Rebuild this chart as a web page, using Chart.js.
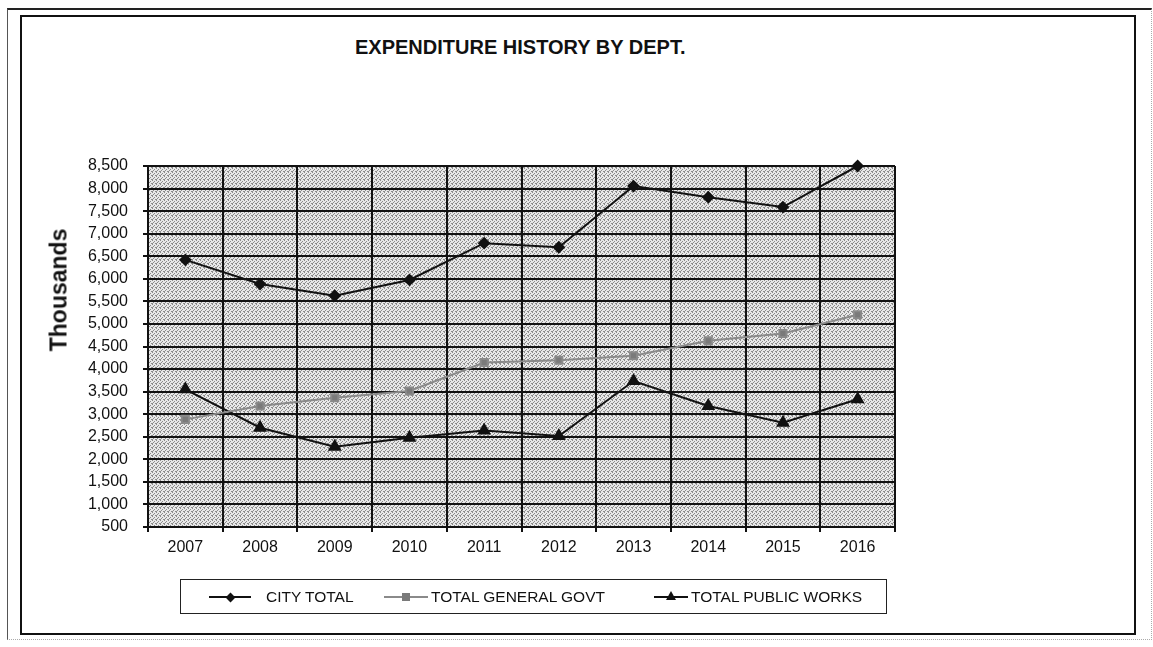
<!DOCTYPE html>
<html>
<head>
<meta charset="utf-8">
<script src="https://cdn.jsdelivr.net/npm/chart.js@4"></script>
<style>
  body { margin: 0; background: #fff; font-family: "Liberation Sans", Arial, sans-serif; }
  #page { position: relative; width: 1153px; height: 647px; overflow: hidden; }
  #outer { position: absolute; left: 7px; top: 8px; width: 1145px; height: 632px;
    border-left: 1px solid #555; border-top: 2px solid #222; border-right: 1px dotted #aaa; border-bottom: 1px dotted #aaa; box-sizing: border-box; }
  #inner { position: absolute; left: 20px; top: 15px; width: 1116px; height: 620px; border: 2px solid #111; box-sizing: border-box; }
  #title { position: absolute; left: 355px; top: 36px; font-size: 20px; font-weight: bold; color: #111; white-space: nowrap; }
  #ytitle { position: absolute; left: 59px; top: 290px; font-size: 23px; font-weight: bold; color: #111; white-space: nowrap;
    transform: translate(-50%, -50%) rotate(-90deg); }
  #chartBox { position: absolute; left: 0; top: 0; width: 1153px; height: 647px; }
  #legend { position: absolute; left: 180px; top: 579px; width: 707px; height: 35px; border: 1px solid #222; box-sizing: border-box; }
  .sample { position: absolute; top: 16px; height: 2px; }
  .mark { position: absolute; }
  .label { position: absolute; top: 8px; font-size: 15.5px; color: #111; white-space: nowrap; }
</style>
</head>
<body>
<div id="page">
  <div id="outer"></div>
  <div id="inner"></div>
  <div id="title">EXPENDITURE HISTORY BY DEPT.</div>
  <div id="chartBox"><canvas id="expChart"></canvas></div>
  <div id="ytitle">Thousands</div>
  <div id="legend"></div>
</div>
<script>
// data (thousands)
const years = ['2007', '2008', '2009', '2010', '2011', '2012', '2013', '2014', '2015', '2016'];
const cityTotal = [6420, 5885, 5625, 5975, 6790, 6700, 8055, 7810, 7590, 8500];
const generalGovt = [2885, 3180, 3365, 3515, 4145, 4195, 4295, 4625, 4790, 5205];
const publicWorks = [3550, 2700, 2280, 2480, 2640, 2515, 3735, 3180, 2810, 3330];
const seriesNames = ['CITY TOTAL', 'TOTAL GENERAL GOVT', 'TOTAL PUBLIC WORKS'];
const yMin = 500, yMax = 8500, yStep = 500;

// grey stipple like the scanned plot area
function stipple(ctx) {
  const c = document.createElement('canvas');
  c.width = 4; c.height = 4;
  const p = c.getContext('2d');
  p.fillStyle = '#e8e8e8';
  p.fillRect(0, 0, 4, 4);
  p.fillStyle = '#8c8c8c';
  [[0,0],[2,1],[1,2],[3,3],[0,3]].forEach(function(d) { p.fillRect(d[0], d[1], 1, 1); });
  return ctx.createPattern(c, 'repeat');
}

const plotBg = {
  id: 'plotBg',
  beforeDraw(chart) {
    const a = chart.chartArea, ctx = chart.ctx;
    ctx.save();
    ctx.fillStyle = stipple(ctx);
    ctx.fillRect(a.left, a.top, a.right - a.left, a.bottom - a.top);
    ctx.restore();
  }
};

const font = { family: '"Liberation Sans", Arial, sans-serif', size: 16 };

const chart = new Chart(document.getElementById('expChart'), {
  type: 'line',
  data: {
    labels: years,
    datasets: [{
      label: seriesNames[0],
      data: cityTotal,
      borderColor: '#111',
      backgroundColor: '#111',
      borderWidth: 2,
      pointStyle: 'rectRot',
      pointRadius: 5,
      tension: 0
    }, {
      label: seriesNames[1],
      data: generalGovt,
      borderColor: '#8a8a8a',
      backgroundColor: '#7a7a7a',
      borderWidth: 2,
      pointStyle: 'rect',
      pointRadius: 5,
      tension: 0
    }, {
      label: seriesNames[2],
      data: publicWorks,
      borderColor: '#111',
      backgroundColor: '#111',
      borderWidth: 2,
      pointStyle: 'triangle',
      pointRadius: 6,
      tension: 0
    }]
  },
  options: {
    responsive: true,
    maintainAspectRatio: false,
    animation: false,
    clip: false,
    layout: { padding: { left: 40, top: 166, right: 258, bottom: 80 } },
    plugins: { legend: { display: false }, tooltip: { enabled: false } },
    scales: {
      x: {
        offset: true,
        grid: { offset: true, color: '#111', lineWidth: 2, tickLength: 5 },
        border: { color: '#111', width: 2 },
        ticks: { color: '#111', font: font, padding: 6, maxRotation: 0 },
        afterFit: function(s) { s.height = 40; }
      },
      y: {
        min: yMin,
        max: yMax,
        grid: { color: '#111', lineWidth: 2, tickLength: 5 },
        border: { color: '#111', width: 2 },
        ticks: {
          stepSize: yStep,
          color: '#111',
          font: font,
          padding: 15,
          callback: function(v) { return v.toLocaleString('en-US'); }
        },
        afterFit: function(s) { s.width = 108; }
      }
    }
  },
  plugins: [plotBg]
});

// legend built from the chart's datasets
const legendPos = [
  { sample: [208, 250], text: 265 },
  { sample: [383, 427], text: 430 },
  { sample: [653, 687], text: 690 }
];
const legendLeft = 180;
const legend = document.getElementById('legend');
chart.data.datasets.forEach(function(ds, i) {
  const pos = legendPos[i];
  const left = pos.sample[0] - legendLeft, w = pos.sample[1] - pos.sample[0];
  const line = document.createElement('div');
  line.className = 'sample';
  line.style.left = left + 'px';
  line.style.width = w + 'px';
  line.style.background = ds.borderColor;
  legend.appendChild(line);
  const m = document.createElement('div');
  m.className = 'mark';
  const cx = left + w / 2;
  if (ds.pointStyle === 'rectRot') {
    Object.assign(m.style, { left: (cx - 3.5) + 'px', top: '13.5px', width: '7px', height: '7px', background: ds.backgroundColor, transform: 'rotate(45deg)' });
  } else if (ds.pointStyle === 'rect') {
    Object.assign(m.style, { left: (cx - 4) + 'px', top: '13px', width: '8px', height: '8px', background: ds.backgroundColor });
  } else {
    Object.assign(m.style, { left: (cx - 5) + 'px', top: '11px', width: 0, height: 0,
      borderLeft: '5px solid transparent', borderRight: '5px solid transparent', borderBottom: '9px solid ' + ds.backgroundColor });
  }
  legend.appendChild(m);
  const t = document.createElement('div');
  t.className = 'label';
  t.style.left = (pos.text - legendLeft) + 'px';
  t.textContent = ds.label;
  legend.appendChild(t);
});
</script>
</body>
</html>
